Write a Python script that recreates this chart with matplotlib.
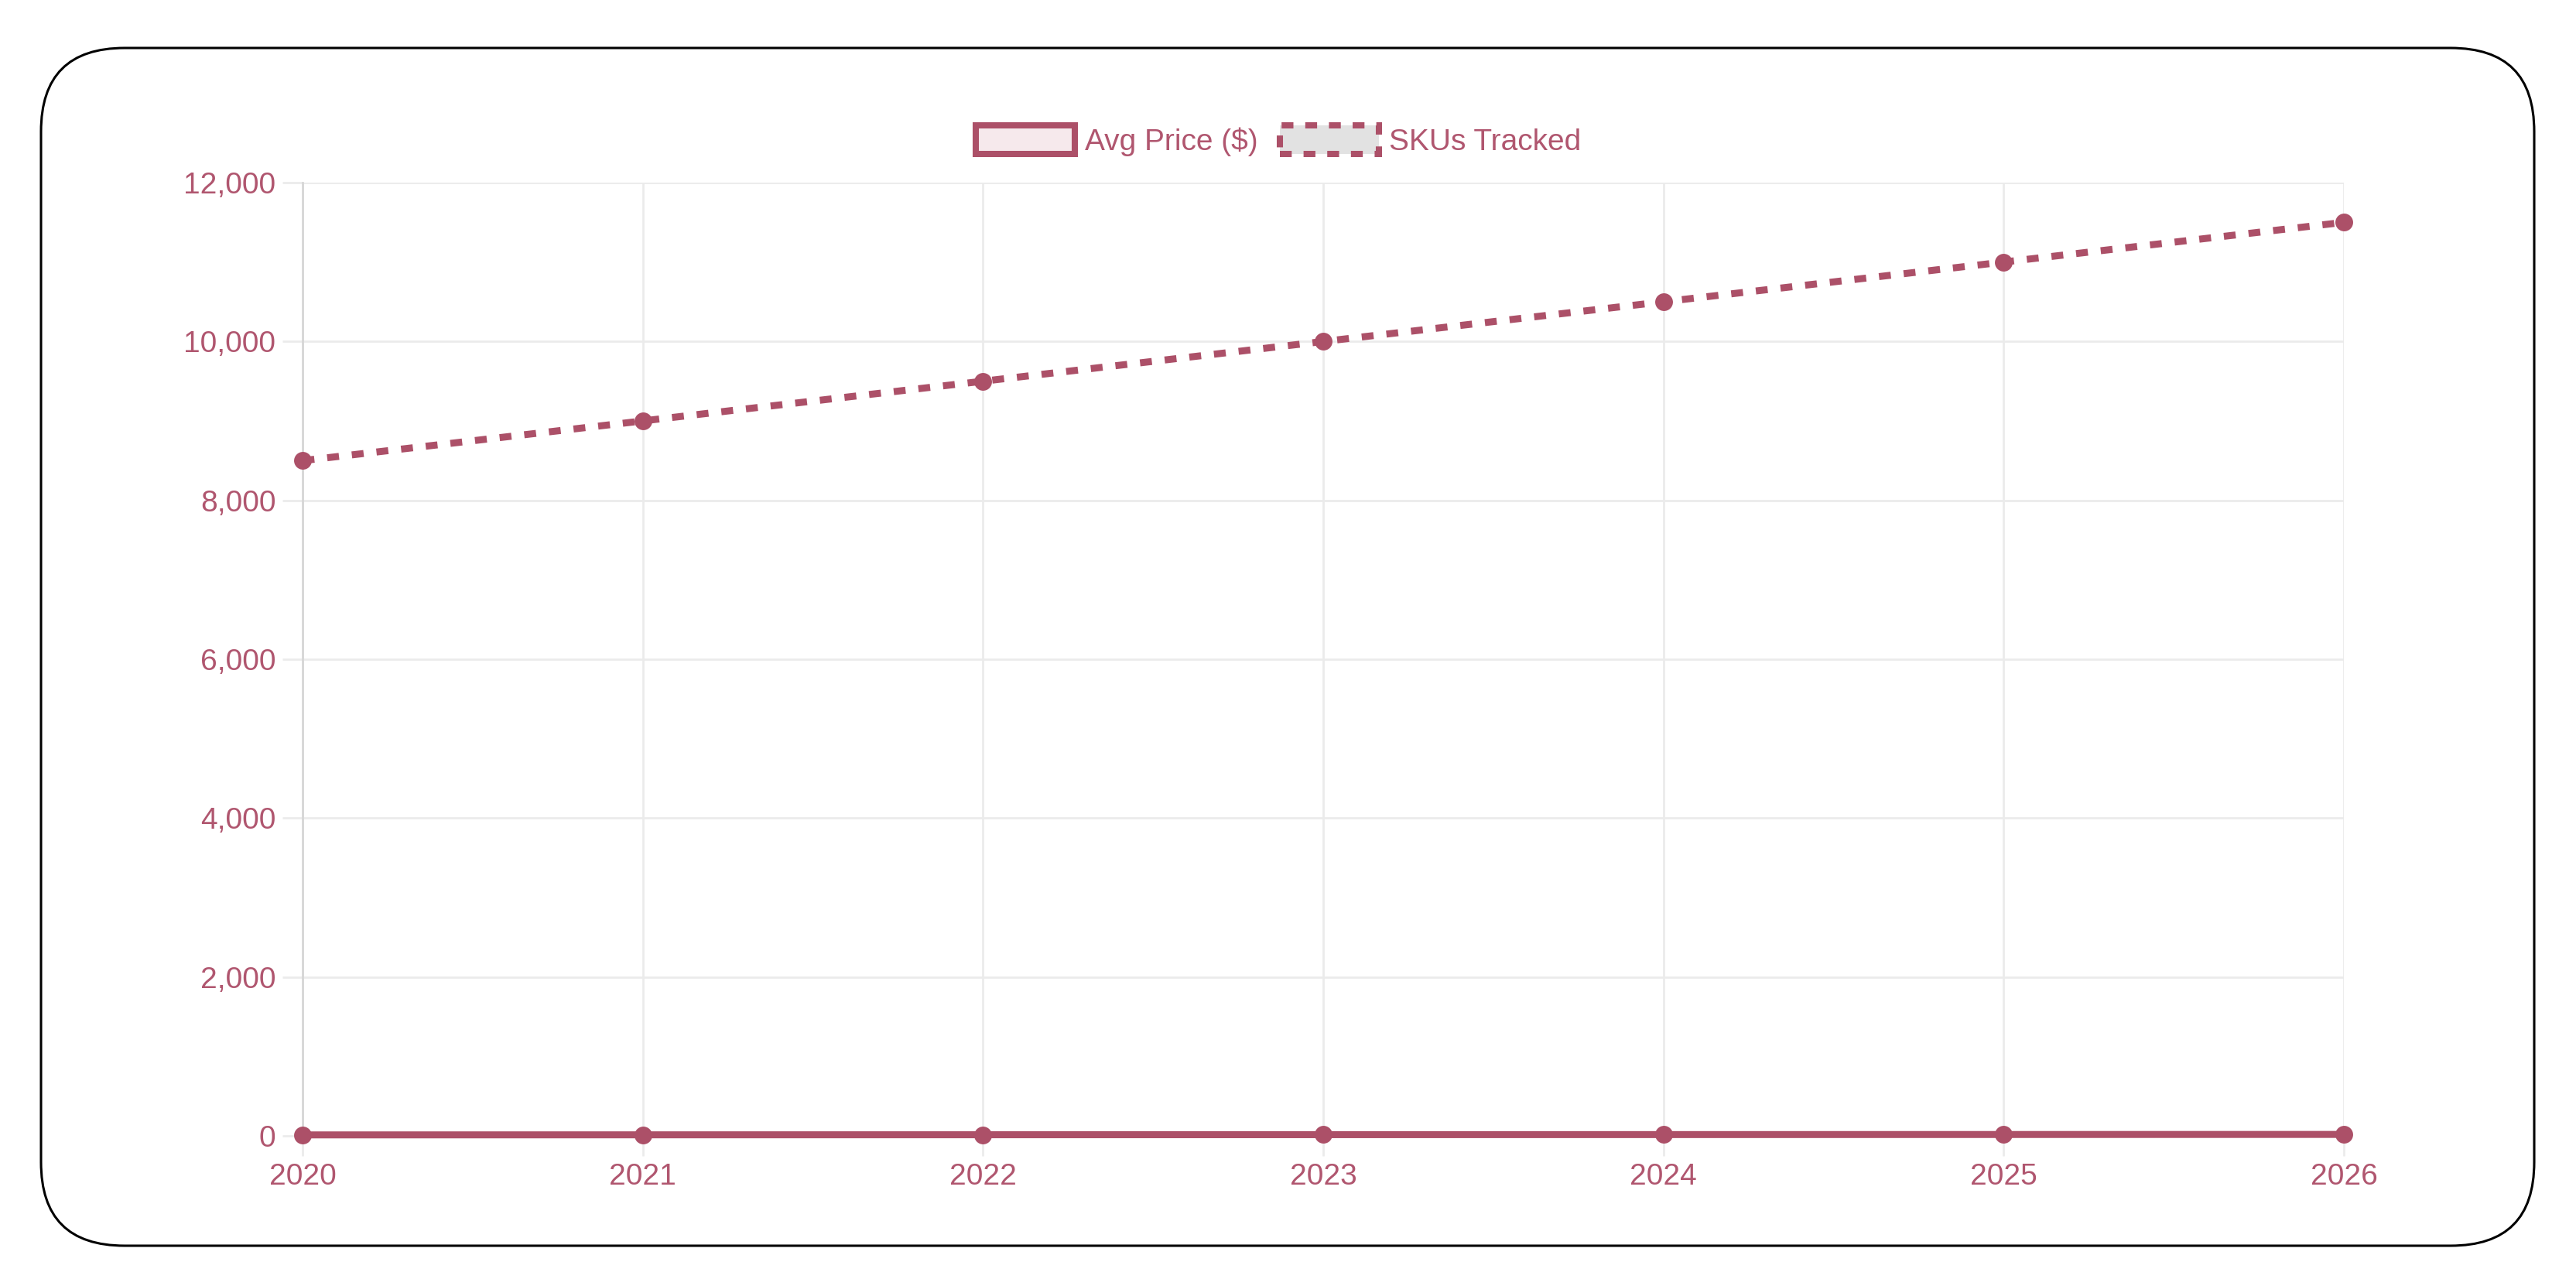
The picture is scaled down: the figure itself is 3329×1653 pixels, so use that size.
import matplotlib
matplotlib.use("Agg")
import matplotlib.pyplot as plt
from matplotlib.patches import FancyBboxPatch, Patch
from matplotlib.transforms import IdentityTransform
from matplotlib.ticker import FuncFormatter

years = ["2020", "2021", "2022", "2023", "2024", "2025", "2026"]
avg_price = [12, 13, 14, 15, 16, 17, 18]
skus_tracked = [8500, 9000, 9500, 10000, 10500, 11000, 11500]
y_ticks = [0, 2000, 4000, 6000, 8000, 10000, 12000]
series_labels = ["Avg Price ($)", "SKUs Tracked"]

LINE = "#AC5068"
TEXT = "#B0566F"
GRID = "#EBEBEB"
AXIS = "#D6D6D6"
FS = 28
LW = 6.5

plt.rcParams["font.family"] = ["Liberation Sans", "DejaVu Sans"]

W, H, DPI = 3330, 1653, 100
fig = plt.figure(figsize=(W / DPI, H / DPI), dpi=DPI)
fig.patch.set_facecolor("white")

# rounded border (pixel coordinates)
border = FancyBboxPatch((53, H - 1610), 3275 - 53, 1610 - 62,
                        boxstyle="round,pad=0,rounding_size=108",
                        transform=IdentityTransform(), facecolor="none",
                        edgecolor="black", linewidth=2.2, zorder=-1)
fig.patches.append(border)

left, right, top, bottom = 391, 3029, 236, 1468
ax = fig.add_axes([left / W, 1 - bottom / H, (right - left) / W, (bottom - top) / H])
ax.set_facecolor("none")
ax.set_zorder(2)

x = list(range(len(years)))
ax.plot(x, skus_tracked, color=LINE, linewidth=LW, dashes=(1.7, 1.85),
        dash_capstyle="butt", marker="o", markersize=16.5, markeredgewidth=0,
        zorder=3, clip_on=False)
ax.plot(x, avg_price, color=LINE, linewidth=LW, solid_capstyle="butt",
        marker="o", markersize=16.5, markeredgewidth=0, zorder=4, clip_on=False)

ax.set_xlim(0, len(years) - 1)
ax.set_ylim(0, 12000)
ax.set_xticks(x)
ax.set_xticklabels(years)
ax.set_yticks(y_ticks)
ax.yaxis.set_major_formatter(FuncFormatter(lambda v, p: f"{int(v):,}"))

ax.grid(True, color=GRID, linewidth=2.0, zorder=0)
ax.set_axisbelow(True)
for s in ["top", "right", "bottom"]:
    ax.spines[s].set_visible(False)
ax.spines["left"].set_color(AXIS)
ax.spines["left"].set_linewidth(2.0)

ax.tick_params(axis="both", colors=GRID, labelcolor=TEXT, labelsize=FS,
               length=19, width=2.0)
ax.tick_params(axis="y", pad=6)
ax.tick_params(axis="x", pad=6)

handles = [
    Patch(facecolor="#F6E9EC", edgecolor=LINE, linewidth=5.8, label=series_labels[0]),
    Patch(facecolor="#E2E2E2", edgecolor=LINE, linewidth=5.8, linestyle=(0, (1.9, 1.9)),
          label=series_labels[1]),
]
leg = fig.legend(handles=handles, loc="center", ncol=2,
                 bbox_to_anchor=(1652 / W, 1 - 182 / H), frameon=False,
                 fontsize=FS, handlelength=3.3, handleheight=1.1,
                 handletextpad=0.33, columnspacing=0.72, borderpad=0)
for t in leg.get_texts():
    t.set_color(TEXT)

fig.savefig("out.png", dpi=DPI, facecolor="white")
